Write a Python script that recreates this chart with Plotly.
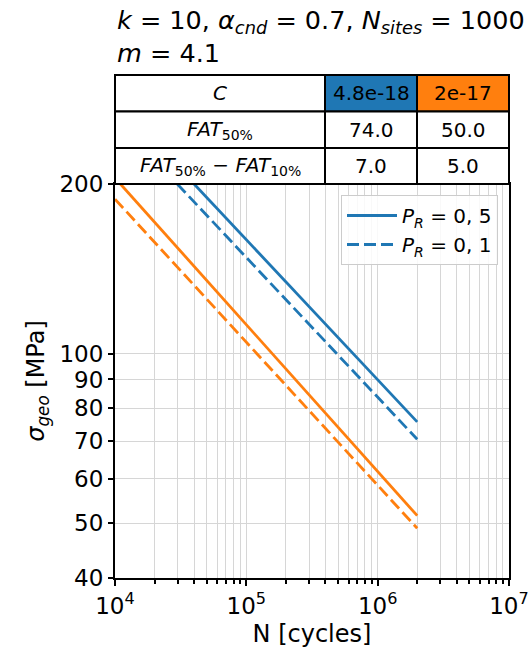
import plotly.graph_objects as go

# ---- data ----
blue_solid_N = [4.0e4, 2.0e6]
blue_solid_S = [200.0, 75.7]
blue_dash_N = [2.98e4, 2.0e6]
blue_dash_S = [200.0, 70.5]
orange_solid_N = [1.1e4, 2.0e6]
orange_solid_S = [200.0, 51.6]
orange_dash_N = [1.0e4, 2.0e6]
orange_dash_S = [188.0, 49.0]

table_rows = ["<i>C</i>", "<i>FAT</i><sub>50%</sub>",
              "<i>FAT</i><sub>50%</sub> − <i>FAT</i><sub>10%</sub>"]
table_col1 = ["4.8e-18", "74.0", "7.0"]
table_col2 = ["2e-17", "50.0", "5.0"]

y_ticks = [40, 50, 60, 70, 80, 90, 100, 200]
x_ticks = [1e4, 1e5, 1e6, 1e7]
x_ticktext = ["10<sup>4</sup>", "10<sup>5</sup>", "10<sup>6</sup>", "10<sup>7</sup>"]

BLUE = "#1f77b4"
ORANGE = "#ff7f0e"
FONT = "DejaVu Sans"
DASH = "12px,5px"
LW = 2.8

fig = go.Figure()
fig.add_trace(go.Scatter(x=blue_solid_N, y=blue_solid_S, mode="lines",
                         line=dict(color=BLUE, width=LW),
                         name="<i>P</i><sub><i>R</i></sub> = 0, 5"))
fig.add_trace(go.Scatter(x=blue_dash_N, y=blue_dash_S, mode="lines",
                         line=dict(color=BLUE, width=LW, dash=DASH),
                         name="<i>P</i><sub><i>R</i></sub> = 0, 1"))
fig.add_trace(go.Scatter(x=orange_solid_N, y=orange_solid_S, mode="lines",
                         line=dict(color=ORANGE, width=LW), showlegend=False))
fig.add_trace(go.Scatter(x=orange_dash_N, y=orange_dash_S, mode="lines",
                         line=dict(color=ORANGE, width=LW, dash=DASH),
                         showlegend=False))

W, H = 531, 662
L, R, T, B = 115, 531 - 509, 184, 662 - 578
plot_h = H - T - B

def py(pix):
    # page pixel y (from top) -> paper y
    return 1 + (T - pix) / plot_h

def px(pix):
    return (pix - L) / (W - L - R)

col_edges = [px(115), px(325), px(417), px(509)]
row_edges = [py(75), py(111.5), py(148), py(184)]

shapes = []
annotations = []
for r in range(3):
    vals = [table_rows[r], table_col1[r], table_col2[r]]
    for c in range(3):
        fill = "white"
        if r == 0 and c == 1:
            fill = BLUE
        elif r == 0 and c == 2:
            fill = ORANGE
        shapes.append(dict(type="rect", xref="paper", yref="paper",
                           x0=col_edges[c], x1=col_edges[c + 1],
                           y0=row_edges[r + 1], y1=row_edges[r],
                           fillcolor=fill, line=dict(color="black", width=2),
                           layer="above"))
        annotations.append(dict(xref="paper", yref="paper",
                                x=(col_edges[c] + col_edges[c + 1]) / 2,
                                y=(row_edges[r] + row_edges[r + 1]) / 2,
                                text=vals[c],
                                showarrow=False, xanchor="center", yanchor="middle",
                                font=dict(family=FONT, size=20, color="black")))

annotations.append(dict(xref="paper", yref="paper", x=0, y=py(3),
                        xanchor="left", yanchor="top", align="left",
                        showarrow=False,
                        text="<i>k</i> = 10, <i>α</i><sub><i>cnd</i></sub> = 0.7, "
                             "<i>N</i><sub><i>sites</i></sub> = 1000<br><i>m</i> = 4.1",
                        font=dict(family=FONT, size=25.5, color="black")))

fig.update_layout(
    width=W, height=H,
    margin=dict(l=L, r=R, t=T, b=B, autoexpand=False),
    paper_bgcolor="white", plot_bgcolor="white",
    font=dict(family=FONT, size=22, color="black"),
    shapes=shapes, annotations=annotations,
    showlegend=True,
    legend=dict(x=px(341), y=py(195), xanchor="left", yanchor="top",
                bgcolor="rgba(255,255,255,0.85)", bordercolor="#cccccc", borderwidth=1,
                font=dict(family=FONT, size=20), itemwidth=50, tracegroupgap=4),
)

fig.update_xaxes(type="log", range=[4, 7], automargin=False,
                 tickvals=x_ticks, ticktext=x_ticktext,
                 ticks="outside", ticklen=6, tickwidth=1.5, tickcolor="black",
                 showline=True, linecolor="black", linewidth=2, mirror=True,
                 showgrid=True, gridcolor="#d6d6d6", gridwidth=1.3,
                 minor=dict(tickvals=[m * 10 ** e for e in (4, 5, 6) for m in range(2, 10)],
                            ticks="outside", ticklen=3.5, tickcolor="black",
                            showgrid=True, gridcolor="#d6d6d6", gridwidth=1.3),
                 tickfont=dict(size=23),
                 title=dict(text="N [cycles]", font=dict(size=24), standoff=8),
                 zeroline=False)
fig.update_yaxes(type="log", range=[1.60206, 2.30103], automargin=False,
                 tickvals=y_ticks, ticktext=[str(v) for v in y_ticks],
                 ticks="outside", ticklen=5, tickwidth=1.5, tickcolor="black",
                 showline=True, linecolor="black", linewidth=2, mirror=True,
                 showgrid=True, gridcolor="#d6d6d6", gridwidth=1.3,
                 tickfont=dict(size=23),
                 title=dict(text="<i>σ</i><sub><i>geo</i></sub> [MPa]", font=dict(size=24), standoff=8),
                 zeroline=False)

fig.write_html(
    "out.html",
    config={"displayModeBar": False},
    post_script="document.body.style.margin='0';"
                "document.body.style.overflow='hidden';"
                "document.documentElement.style.overflow='hidden';",
)
